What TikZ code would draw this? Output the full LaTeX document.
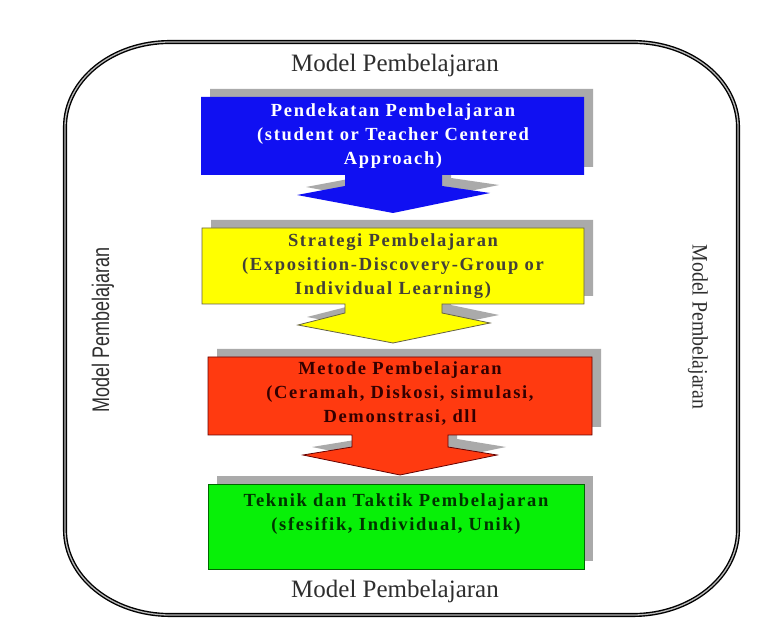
\documentclass[tikz,border=0pt]{standalone}
\usepackage{fontspec}
\usepackage{graphicx}
\setmainfont{Liberation Serif}
\newfontfamily\spacedserif[LetterSpace=9]{Liberation Serif}
\newfontfamily\sidesans{Liberation Sans}
\definecolor{StepBlue}{HTML}{1010F2}
\definecolor{StepYellow}{HTML}{FFFF00}
\definecolor{StepRed}{HTML}{FF3A10}
\definecolor{StepGreen}{HTML}{08F008}
\definecolor{ShadeGray}{HTML}{AAAAAA}
\definecolor{LabelGray}{HTML}{2E2E2E}

\begin{document}
\begin{tikzpicture}[x=1pt, y=1pt,
    shade/.style={fill=ShadeGray},
    boxtext/.style={font=\spacedserif\bfseries\fontsize{18.5}{24}\selectfont,
      align=center, inner sep=0pt, anchor=base},
    lbl/.style={text=LabelGray, inner sep=0pt},
    frame/.style={draw=black, line width=1.4pt, double=gray!55, double distance=1.3pt}
  ]
    \useasboundingbox[fill=white] (0,0) rectangle (780,632);

    % outer frame
    \draw[frame] (170,590) -- (633,590)
      arc[start angle=90, end angle=0, x radius=105, y radius=85] -- (738,102)
      arc[start angle=0, end angle=-90, x radius=105, y radius=85] -- (170,17)
      arc[start angle=270, end angle=180, x radius=105, y radius=85] -- (65,505)
      arc[start angle=180, end angle=90, x radius=105, y radius=85] -- cycle;

    % blue step
    \fill[shade, xshift=9pt, yshift=8pt] (201,535) -- (584,535) -- (584,457) -- (442,457) -- (442,446)
      -- (490,439) -- (393,419) -- (297,437) -- (345,446) -- (345,457) -- (201,457) -- cycle;
    \fill[StepBlue] (201,535) -- (584,535) -- (584,457) -- (442,457) -- (442,446)
      -- (490,439) -- (393,419) -- (297,437) -- (345,446) -- (345,457) -- (201,457) -- cycle;

    % yellow step
    \fill[shade, xshift=9pt, yshift=8pt] (202,404) -- (584,404) -- (584,328) -- (442,328) -- (442,319)
      -- (490,309) -- (393,289) -- (298,307) -- (345,319) -- (345,328) -- (202,328) -- cycle;
    \filldraw[fill=StepYellow, draw=black!70!yellow, thick] (202,404) -- (584,404) -- (584,328) -- (442,328) -- (442,319)
      -- (490,309) -- (393,289) -- (298,307) -- (345,319) -- (345,328) -- (202,328) -- cycle;

    % red step
    \fill[shade, xshift=9pt, yshift=8pt] (208,275) -- (592,275) -- (592,197) -- (448,197) -- (448,185)
      -- (497,177) -- (400,157) -- (303,177) -- (352,185) -- (352,197) -- (208,197) -- cycle;
    \filldraw[fill=StepRed, draw=black!60!red, thick] (208,275) -- (592,275) -- (592,197) -- (448,197) -- (448,185)
      -- (497,177) -- (400,157) -- (303,177) -- (352,185) -- (352,197) -- (208,197) -- cycle;

    % green step
    \fill[shade, xshift=9pt, yshift=8pt] (208,148) rectangle (584,63);
    \filldraw[fill=StepGreen, draw=black!60!green, thick] (208,148) rectangle (584,63);

    \node[boxtext, text=white] (pend) at (393,467) {Pendekatan Pembelajaran\\(student or Teacher Centered\\Approach)};
    \node[boxtext, text=black!85!yellow] (strat) at (393,337) {Strategi Pembelajaran\\(Exposition-Discovery-Group or\\Individual Learning)};
    \node[boxtext, text=black!80!red] (metode) at (400,209) {Metode Pembelajaran\\(Ceramah, Diskosi, simulasi,\\Demonstrasi, dll};
    \node[boxtext, text=black!80!green] (teknik) at (396,101) {Teknik dan Taktik Pembelajaran\\(sfesifik, Individual, Unik)};

    \node[lbl, font=\fontsize{25}{30}\selectfont, anchor=base] (modelTop) at (395,560) {Model Pembelajaran};
    \node[lbl, font=\fontsize{25}{30}\selectfont, anchor=base] (modelBottom) at (395,34) {Model Pembelajaran};
    \node[lbl, font=\sidesans\fontsize{24}{28}\selectfont, rotate=90] (modelLeft) at (103,302) {\scalebox{0.75}[1]{Model Pembelajaran}};
    \node[lbl, font=\fontsize{22}{26}\selectfont, rotate=-90] (modelRight) at (698,305) {\scalebox{0.9}[1]{Model Pembelajaran}};
  \end{tikzpicture}
\end{document}
